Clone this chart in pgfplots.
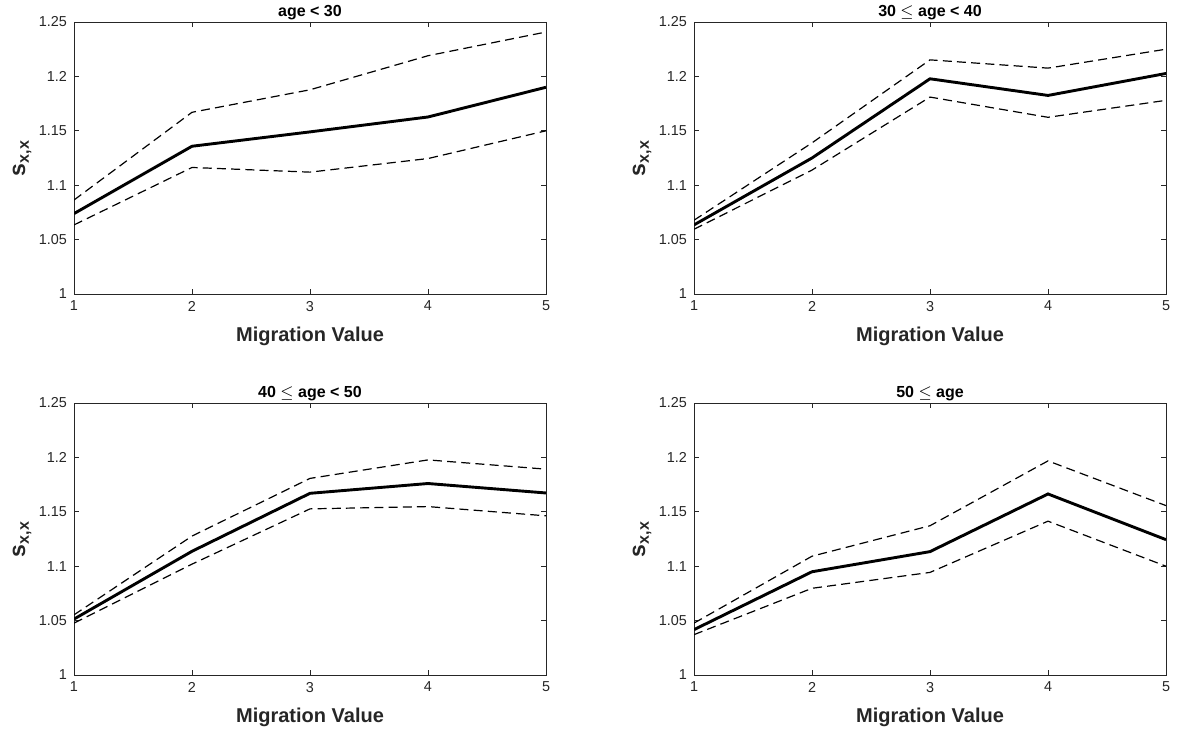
\documentclass[border=0pt]{standalone}
\usepackage{fontspec}
\setmainfont{Liberation Sans}
\usepackage{pgfplots}
\pgfplotsset{compat=1.18}
\definecolor{axgray}{gray}{0.15}
\pgfplotsset{
  every axis title/.style={at={(0.5,1)}, anchor=base, yshift=2.6pt, font=\bfseries\fontsize{8}{9.6}\selectfont},
  mystyle/.style={
    width=236pt, height=136pt, scale only axis,
    xmin=1, xmax=5, ymin=1, ymax=1.25,
    xtick={1,2,3,4,5},
    ytick={1,1.05,1.1,1.15,1.2,1.25},
    yticklabels={1,1.05,1.1,1.15,1.2,1.25},
    /pgf/number format/assume math mode=true,
    tick label style={font=\fontsize{7.2}{8}\selectfont, color=axgray},
    axis line style={axgray, line width=0.45pt},
    major tick style={axgray, line width=0.45pt},
    major tick length=2.5pt,
    tick align=inside,
    xlabel={Migration Value},
    xlabel style={font=\bfseries\fontsize{10}{12}\selectfont, color=axgray, at={(axis description cs:0.5,-0.155)}, anchor=center},
    ylabel={s\textsubscript{x,x}},
    ylabel style={font=\bfseries\fontsize{11.5}{13}\selectfont, color=axgray, at={(axis description cs:-0.11,0.5)}, anchor=center},
    every axis plot/.append style={black},
  },
  mid/.style={line width=1.45pt},
  band/.style={line width=0.6pt, dash pattern=on 4.5pt off 2.6pt},
}
\begin{document}
\begin{tikzpicture}
% top-left
\begin{axis}[mystyle, at={(37pt,220pt)}, anchor=south west, title={age < 30}]
\addplot[mid] coordinates {(1,1.0739) (2,1.1358) (3,1.1490) (4,1.1627) (5,1.1900)};
\addplot[band] coordinates {(1,1.0864) (2,1.1670) (3,1.1877) (4,1.2190) (5,1.2408)};
\addplot[band] coordinates {(1,1.0635) (2,1.1163) (3,1.1120) (4,1.1245) (5,1.1500)};
\end{axis}
% top-right
\begin{axis}[mystyle, at={(347pt,220pt)}, anchor=south west, title={30 $\leq$ age < 40}]
\addplot[mid] coordinates {(1,1.0635) (2,1.1250) (3,1.1978) (4,1.1825) (5,1.2027)};
\addplot[band] coordinates {(1,1.0678) (2,1.1389) (3,1.2152) (4,1.2076) (5,1.2250)};
\addplot[band] coordinates {(1,1.0595) (2,1.1139) (3,1.1810) (4,1.1624) (5,1.1780)};
\end{axis}
% bottom-left
\begin{axis}[mystyle, at={(37pt,29.5pt)}, anchor=south west, title={40 $\leq$ age < 50}]
\addplot[mid] coordinates {(1,1.0514) (2,1.1137) (3,1.1670) (4,1.1760) (5,1.1673)};
\addplot[band] coordinates {(1,1.0553) (2,1.1277) (3,1.1807) (4,1.1977) (5,1.1892)};
\addplot[band] coordinates {(1,1.0477) (2,1.1019) (3,1.1527) (4,1.1548) (5,1.1463)};
\end{axis}
% bottom-right
\begin{axis}[mystyle, at={(347pt,29.5pt)}, anchor=south west, title={50 $\leq$ age}]
\addplot[mid] coordinates {(1,1.0417) (2,1.0949) (3,1.1134) (4,1.1664) (5,1.1244)};
\addplot[band] coordinates {(1,1.0477) (2,1.1092) (3,1.1372) (4,1.1968) (5,1.1557)};
\addplot[band] coordinates {(1,1.0371) (2,1.0797) (3,1.0943) (4,1.1414) (5,1.1000)};
\end{axis}
\pgfresetboundingbox
\path (0,0) rectangle (588.5pt,367pt);
\end{tikzpicture}
\end{document}
